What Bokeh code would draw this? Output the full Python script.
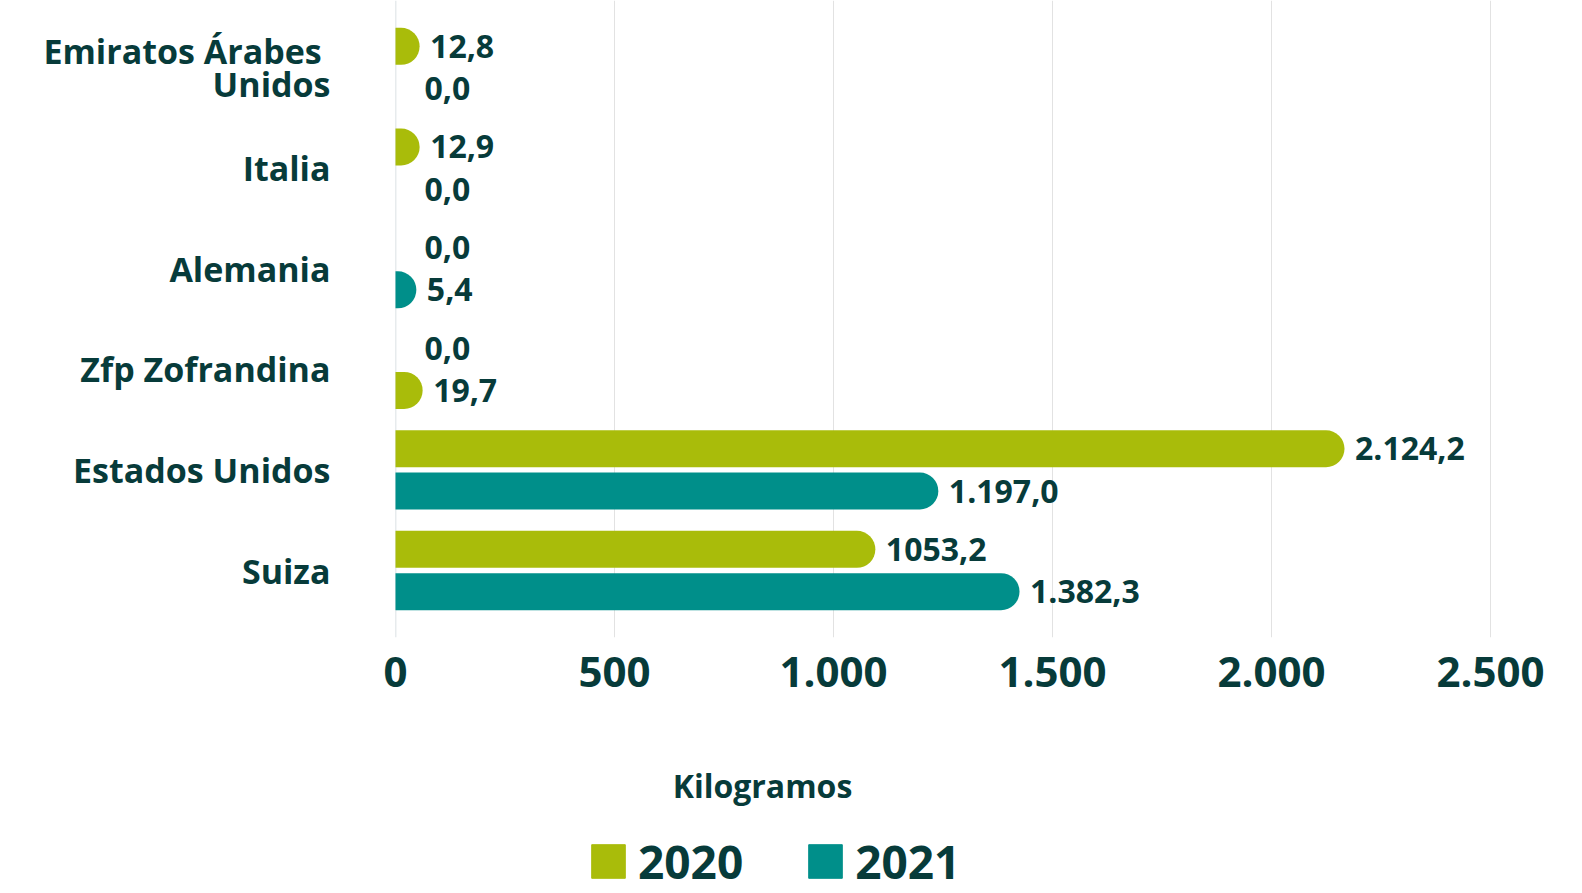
from bokeh.plotting import figure
from bokeh.models import ColumnDataSource, FixedTicker, Range1d, Label, Legend, LegendItem, Span
from bokeh.layouts import column
from bokeh.core.properties import value
from bokeh.embed import file_html
from bokeh.resources import INLINE

# ---- data ----
categories = ["Emiratos Árabes \nUnidos", "Italia", "Alemania", "Zfp Zofrandina", "Estados Unidos", "Suiza"]
values_2020 = [12.8, 12.9, 0.0, 0.0, 2124.2, 1053.2]
values_2021 = [0.0, 0.0, 5.4, 19.7, 1197.0, 1382.3]
labels_2020 = ["12,8", "12,9", "0,0", "0,0", "2.124,2", "1053,2"]
labels_2021 = ["0,0", "0,0", "5,4", "19,7", "1.197,0", "1.382,3"]
x_ticks = [0, 500, 1000, 1500, 2000, 2500]
x_tick_labels = ["0", "500", "1.000", "1.500", "2.000", "2.500"]
series_names = ["2020", "2021"]
axis_title = "Kilogramos"

GREEN = "#a9bc0a"
TEAL = "#008f8a"
TEXT = "#073b3a"
FONT = "Open Sans"
colors_2020 = [GREEN] * 6
colors_2021 = [TEAL, TEAL, TEAL, GREEN, TEAL, TEAL]

n = len(categories)
pos = [n - 1 - i for i in range(n)]
OFF = 0.21

p = figure(width=1582, height=740, output_backend="svg", toolbar_location=None,
           x_range=Range1d(0, 2502), y_range=Range1d(-0.666, 5.666),
           min_border_left=395, min_border_right=91, min_border_top=0, min_border_bottom=103)
p.outline_line_color = None
p.background_fill_color = "white"
p.border_fill_color = "white"

# grid
p.xgrid.ticker = FixedTicker(ticks=x_ticks)
p.xgrid.grid_line_color = "#e2e2e2"
p.xgrid.grid_line_width = 1
p.ygrid.grid_line_color = None
p.add_layout(Span(location=0, dimension="height", line_color="#cfd7dc", line_width=1.5, level="underlay"))

# bars (rounded caps)
for vals, labels, colors, off in [(values_2020, labels_2020, colors_2020, OFF),
                                  (values_2021, labels_2021, colors_2021, -OFF)]:
    idx = [i for i in range(n) if vals[i] != 0]
    src = ColumnDataSource(dict(
        y=[pos[i] + off for i in idx],
        x0=[0] * len(idx),
        x1=[vals[i] for i in idx],
        c=[colors[i] for i in idx],
    ))
    p.segment(x0="x0", y0="y", x1="x1", y1="y", source=src, line_color="c",
              line_width=37, line_cap="round")
    tsrc = ColumnDataSource(dict(x=vals, y=[pp + off for pp in pos], t=labels))
    p.text(x="x", y="y", text="t", source=tsrc, x_offset=29, text_align="left",
           text_baseline="middle", text_font=value(FONT), text_font_style="bold",
           text_font_size="32px", text_color=TEXT)

# x axis
p.xaxis.ticker = FixedTicker(ticks=x_ticks)
p.xaxis.major_label_overrides = {t: l for t, l in zip(x_ticks, x_tick_labels)}
p.xaxis.axis_line_color = None
p.xaxis.major_tick_line_color = None
p.xaxis.minor_tick_line_color = None
p.xaxis.major_label_text_font = FONT
p.xaxis.major_label_text_font_style = "bold"
p.xaxis.major_label_text_font_size = "42px"
p.xaxis.major_label_text_color = TEXT
p.xaxis.major_label_standoff = 13

# y axis
p.yaxis.ticker = FixedTicker(ticks=pos)
p.yaxis.major_label_overrides = {pp: c for pp, c in zip(pos, categories)}
p.yaxis.axis_line_color = None
p.yaxis.major_tick_line_color = None
p.yaxis.minor_tick_line_color = None
p.yaxis.major_label_text_font = FONT
p.yaxis.major_label_text_font_style = "bold"
p.yaxis.major_label_text_font_size = "34px"
p.yaxis.major_label_text_color = TEXT
p.yaxis.major_label_text_line_height = 0.72
p.yaxis.major_label_standoff = 59

# ---- bottom strip: axis title + legend (frame aligned with the main frame) ----
p2 = figure(width=1582, height=153, output_backend="svg", toolbar_location=None,
            x_range=Range1d(0, 1), y_range=Range1d(0, 1),
            min_border_left=395, min_border_right=91, min_border_top=0, min_border_bottom=0)
p2.axis.visible = False
p2.grid.visible = False
p2.outline_line_color = None

p2.add_layout(Label(x=367, y=108, x_units="screen", y_units="screen", text=axis_title,
                    text_align="center", text_baseline="middle", text_font=FONT,
                    text_font_style="bold", text_font_size="32px", text_color=TEXT))

# legend proxies (kept outside the visible range)
r20 = p2.hbar(y=[-5], right=[1], height=0.3, color=GREEN)
r21 = p2.hbar(y=[-5], right=[1], height=0.3, color=TEAL)
legend = Legend(items=[LegendItem(label=series_names[0], renderers=[r20]),
                       LegendItem(label=series_names[1], renderers=[r21])],
                orientation="horizontal", location=(192, 1),
                glyph_width=42, glyph_height=42, label_standoff=9, spacing=61,
                padding=0, margin=0, border_line_color=None, background_fill_alpha=0,
                label_text_font=FONT, label_text_font_size="46px", label_text_color=TEXT,
                label_text_font_style="bold", label_height=42)
p2.add_layout(legend, "center")

layout = column(p, p2, spacing=0)
open("out.html", "w").write(file_html(layout, INLINE))
